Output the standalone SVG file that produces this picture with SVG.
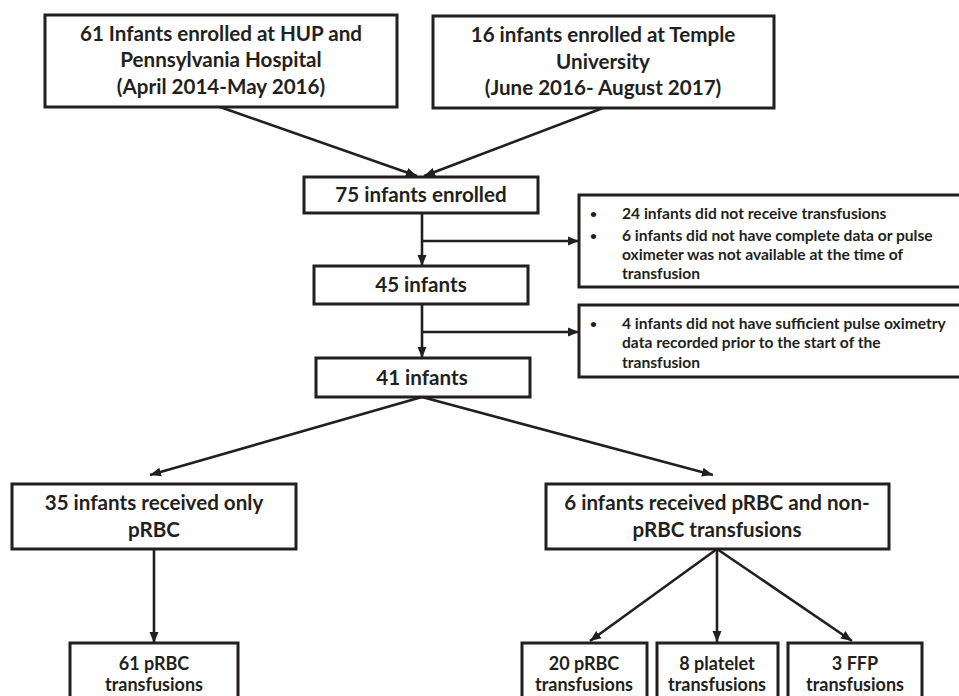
<svg xmlns="http://www.w3.org/2000/svg" width="959" height="696" viewBox="0 0 959 696">
<style>
.box{fill:#fff;stroke:#231f20;stroke-width:3}
.t{font-family:Lato,"Liberation Sans",sans-serif;font-weight:bold;fill:#231f20;text-anchor:middle}
.m{font-size:20.6px}
.s{font-size:15.6px;text-anchor:start}
.bu{font-size:12px;text-anchor:start}
.b{font-size:18px}
.c{stroke:#231f20;stroke-width:2.6;fill:none}
.a{marker-end:url(#ah)}
</style>
<defs>
<marker id="ah" markerUnits="userSpaceOnUse" markerWidth="12" markerHeight="10" refX="11" refY="5" orient="auto">
<path d="M0,0.5 L11,5 L0,9.5 Z" fill="#231f20"/>
</marker>
</defs>
<rect width="959" height="696" fill="#fff"/>
<g id="connectors">
<line class="c a" x1="220" y1="107" x2="417" y2="176"/>
<line class="c a" x1="603" y1="108" x2="424" y2="176"/>
<line class="c a" x1="422" y1="213" x2="422" y2="266"/>
<line class="c a" x1="422" y1="241" x2="579" y2="241"/>
<line class="c a" x1="422" y1="304" x2="422" y2="358"/>
<line class="c a" x1="422" y1="332" x2="579" y2="332"/>
<line class="c a" x1="422" y1="397" x2="150" y2="475"/>
<line class="c a" x1="422" y1="397" x2="713" y2="475"/>
<line class="c a" x1="154" y1="549" x2="154" y2="643"/>
<line class="c a" x1="717" y1="549" x2="590" y2="641"/>
<line class="c a" x1="717" y1="549" x2="717" y2="642"/>
<line class="c a" x1="717" y1="549" x2="852" y2="641"/>
</g>
<g id="n1">
<rect class="box" x="45" y="15" width="352" height="92"/>
<text class="t m" x="221" y="41">61 Infants enrolled at HUP and</text>
<text class="t m" x="221" y="67">Pennsylvania Hospital</text>
<text class="t m" x="221" y="94">(April 2014-May 2016)</text>
</g>
<g id="n2">
<rect class="box" x="433" y="16" width="341" height="92"/>
<text class="t m" x="603" y="42">16 infants enrolled at Temple</text>
<text class="t m" x="603" y="69">University</text>
<text class="t m" x="603" y="95">(June 2016- August 2017)</text>
</g>
<g id="n3">
<rect class="box" x="304" y="177" width="234" height="36"/>
<text class="t m" x="421" y="202">75 infants enrolled</text>
</g>
<g id="n4">
<rect class="box" x="579" y="195" width="400" height="92"/>
<text class="t bu" x="590" y="218">•</text>
<text class="t s" x="622" y="219">24 infants did not receive transfusions</text>
<text class="t bu" x="590" y="240">•</text>
<text class="t s" x="622" y="241">6 infants did not have complete data or pulse</text>
<text class="t s" x="622" y="260">oximeter was not available at the time of</text>
<text class="t s" x="622" y="279">transfusion</text>
</g>
<g id="n5">
<rect class="box" x="314" y="266" width="214" height="38"/>
<text class="t m" x="421" y="292">45 infants</text>
</g>
<g id="n6">
<rect class="box" x="579" y="305" width="400" height="72"/>
<text class="t bu" x="590" y="328">•</text>
<text class="t s" x="622" y="329">4 infants did not have sufficient pulse oximetry</text>
<text class="t s" x="622" y="348">data recorded prior to the start of the</text>
<text class="t s" x="622" y="368">transfusion</text>
</g>
<g id="n7">
<rect class="box" x="316" y="358" width="214" height="39"/>
<text class="t m" x="422" y="385">41 infants</text>
</g>
<g id="n8">
<rect class="box" x="12" y="484" width="284" height="65"/>
<text class="t m" x="154" y="510">35 infants received only</text>
<text class="t m" x="154" y="537">pRBC</text>
</g>
<g id="n9">
<rect class="box" x="546" y="484" width="343" height="65"/>
<text class="t m" x="717" y="510">6 infants received pRBC and non-</text>
<text class="t m" x="717" y="537">pRBC transfusions</text>
</g>
<g id="n10">
<rect class="box" x="70" y="643" width="168" height="70"/>
<text class="t b" x="154" y="670">61 pRBC</text>
<text class="t b" x="154" y="691">transfusions</text>
</g>
<g id="n11">
<rect class="box" x="522" y="643" width="125" height="70"/>
<text class="t b" x="584" y="670">20 pRBC</text>
<text class="t b" x="584" y="691">transfusions</text>
</g>
<g id="n12">
<rect class="box" x="657" y="643" width="121" height="70"/>
<text class="t b" x="717" y="670">8 platelet</text>
<text class="t b" x="717" y="691">transfusions</text>
</g>
<g id="n13">
<rect class="box" x="788" y="643" width="134" height="70"/>
<text class="t b" x="855" y="670">3 FFP</text>
<text class="t b" x="855" y="691">transfusions</text>
</g>
</svg>
